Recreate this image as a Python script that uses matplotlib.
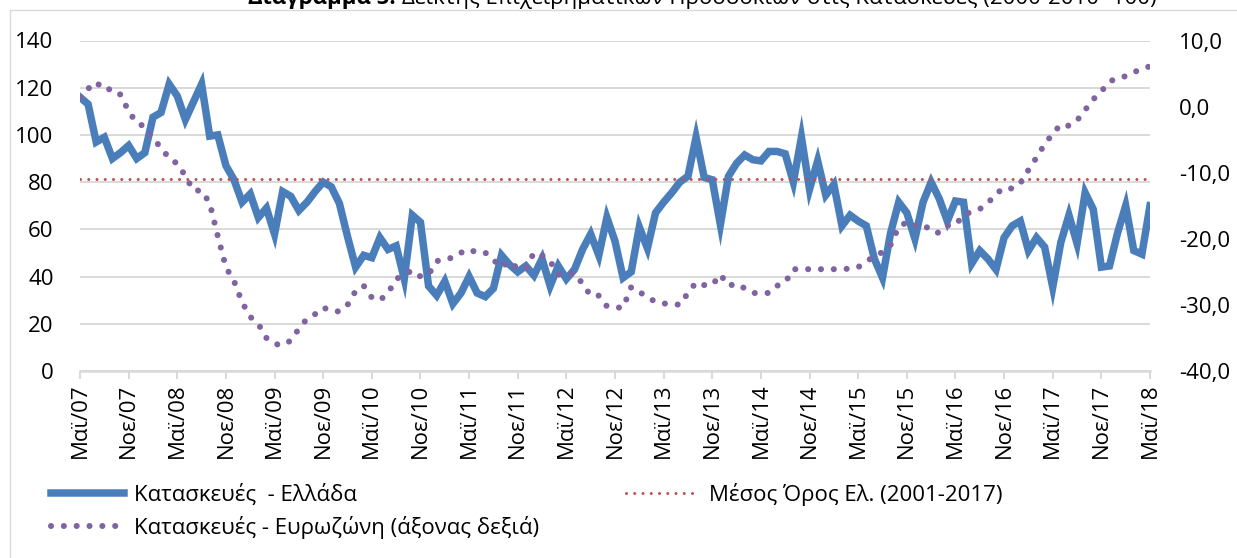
import numpy as np
import matplotlib
matplotlib.use("Agg")
import matplotlib.pyplot as plt
from matplotlib.patches import Rectangle
from matplotlib.transforms import ScaledTranslation

plt.rcParams['font.family'] = ['Open Sans', 'DejaVu Sans']

# monthly data, May 2007 .. May 2018
greece = [116, 113, 97, 99, 90, 92.5, 95.5, 90, 92.5, 107.5,
          109.5, 121.5, 116.5, 106.5, 114, 121.5, 99.5, 100, 87, 81,
          71.5, 75, 65, 69, 58, 76, 74, 68, 71.5, 76,
          80, 78, 71, 57, 44, 49, 48, 56.5, 51.5, 53,
          39, 66, 63, 36, 32, 38, 28.5, 33, 40, 33,
          31.5, 35, 49, 45, 42, 44.5, 40.5, 47.5, 36, 44.5,
          39, 43, 51.5, 58, 49, 65, 55, 39.5, 42, 61,
          52, 67, 71.5, 75.5, 80, 82.5, 99, 82, 81, 62,
          82.5, 88, 91.5, 89.5, 89, 93, 93, 92, 80, 99,
          77, 89, 74.5, 79, 61.5, 66, 63.5, 61.5, 47.5, 39.5,
          58.5, 71.5, 67, 56, 71.5, 80, 73, 63.5, 72, 71.5,
          45.5, 51, 47.5, 43, 56.5, 61.5, 63.5, 51, 56.5, 52.5,
          35.5, 54.5, 66, 54, 75.5, 68.5, 44, 44.5, 58.5, 70,
          51, 49.5, 70]

eurozone = [1.4, 2.7, 3.7, 2.5, 2.7, 1.8, -0.7, -2.5, -3.0, -5.0,
            -6.1, -7.9, -8.6, -10.5, -12.7, -12.7, -14.6, -19.6, -24.3, -26.4,
            -29.6, -31.8, -32.9, -35.0, -35.9, -36.1, -35.4, -33.6, -32.1, -31.4,
            -30.4, -30.9, -31.0, -30.0, -27.9, -27.1, -28.9, -29.3, -28.2, -26.1,
            -25.4, -24.8, -25.7, -25.4, -23.4, -23.0, -22.9, -22.1, -21.6, -22.1,
            -22.1, -23.2, -24.3, -23.4, -24.5, -24.5, -22.1, -22.5, -23.4, -25.4,
            -25.4, -25.2, -26.8, -28.6, -28.6, -30.2, -30.4, -30.4, -27.3, -28.0,
            -28.9, -29.5, -29.8, -29.8, -30.0, -28.2, -26.6, -27.0, -27.0, -25.4,
            -27.1, -26.8, -27.5, -28.2, -28.2, -28.2, -27.1, -26.6, -24.6, -24.6,
            -24.6, -24.6, -24.6, -24.6, -24.6, -24.5, -24.3, -23.4, -22.7, -22.0,
            -20.9, -18.2, -17.5, -18.0, -17.7, -18.9, -19.1, -18.0, -17.9, -16.4,
            -15.9, -15.5, -14.6, -13.2, -12.3, -12.4, -11.6, -9.6, -7.7, -5.7,
            -4.1, -2.7, -2.9, -2.1, -0.5, 1.1, 2.3, 3.8, 4.3, 4.6,
            5.2, 5.7, 6.1]

avg_greece = 81.5

tick_labels = ["Μαϊ/07", "Νοε/07", "Μαϊ/08", "Νοε/08", "Μαϊ/09", "Νοε/09",
               "Μαϊ/10", "Νοε/10", "Μαϊ/11", "Νοε/11", "Μαϊ/12", "Νοε/12",
               "Μαϊ/13", "Νοε/13", "Μαϊ/14", "Νοε/14", "Μαϊ/15", "Νοε/15",
               "Μαϊ/16", "Νοε/16", "Μαϊ/17", "Νοε/17", "Μαϊ/18"]

labels = ["Κατασκευές  - Ελλάδα", "Μέσος Όρος Ελ. (2001-2017)",
          "Κατασκευές - Ευρωζώνη (άξονας δεξιά)"]

W, H = 1237, 558
fig = plt.figure(figsize=(W / 100, H / 100), dpi=100)

# light chart-area border
fig.patches.append(Rectangle((10 / W, -0.05), 1.1, 1.05 - 10 / H, transform=fig.transFigure,
                             fill=False, edgecolor='#d9d9d9', lw=1))

# title, mostly cut off at the top
fs = 16
fig.text(396 / W, 1 - 4 / H, "Διάγραμμα 5:", ha='right', va='baseline',
         fontsize=fs, fontweight='bold')
fig.text(402 / W, 1 - 4 / H, "Δείκτης Επιχειρηματικών Προσδοκιών στις Κατασκευές (2000-2010=100)",
         ha='left', va='baseline', fontsize=fs)

ax = fig.add_axes([80 / W, 187 / H, 1070 / W, 330.5 / H])
x = np.arange(len(greece))

blue, = ax.plot(x, greece, color='#4a7ebb', lw=5.4, solid_joinstyle='miter', zorder=3)
red, = ax.plot(x, np.full(len(x), avg_greece), color='#c0504d', lw=2.2,
               linestyle=(0, (0.001, 2.7)), dash_capstyle='round', zorder=4)

ax.set_xlim(0, len(x) - 1)
ax.set_ylim(0, 140)
ax.set_yticks(np.arange(0, 141, 20))
ax.set_xticks(x[::6])
ax.set_xticklabels(tick_labels, rotation=90, fontsize=fs)
shift = ScaledTranslation(4 / 100, 0, fig.dpi_scale_trans)
for t in ax.get_xticklabels():
    t.set_transform(t.get_transform() + shift)
ax.grid(axis='y', color='#d9d9d9', lw=1.4, zorder=0)
ax.set_axisbelow(True)
for s in ['top', 'left', 'right']:
    ax.spines[s].set_visible(False)
ax.spines['bottom'].set_color('#d9d9d9')
ax.spines['bottom'].set_linewidth(1.8)
ax.tick_params(axis='x', length=6, width=1.4, color='#d9d9d9', pad=3)
ax.tick_params(axis='y', length=0, pad=19, labelsize=fs)

ax2 = ax.twinx()
purple, = ax2.plot(x, eurozone, color='#8064a2', lw=4.4,
                   linestyle=(0, (0.001, 2.1)), dash_capstyle='round')
ax2.set_ylim(-40, 10)
ax2.set_yticks(np.arange(-40, 11, 10))
ax2.set_yticklabels([f"{v:.1f}".replace('.', ',') for v in np.arange(-40, 11, 10)])
for s in ['top', 'left', 'right', 'bottom']:
    ax2.spines[s].set_visible(False)
ax2.tick_params(axis='y', length=0, pad=21, labelsize=fs)

fig.legend([blue, purple, red], [labels[0], labels[2], labels[1]], ncol=2,
           loc='upper left', bbox_to_anchor=(51 / W, 1 - 483 / H), frameon=False,
           fontsize=fs, handlelength=3.3, handletextpad=0.45, columnspacing=3.9,
           labelspacing=0.45, borderaxespad=0, borderpad=0)

fig.savefig("out.png", dpi=100)
